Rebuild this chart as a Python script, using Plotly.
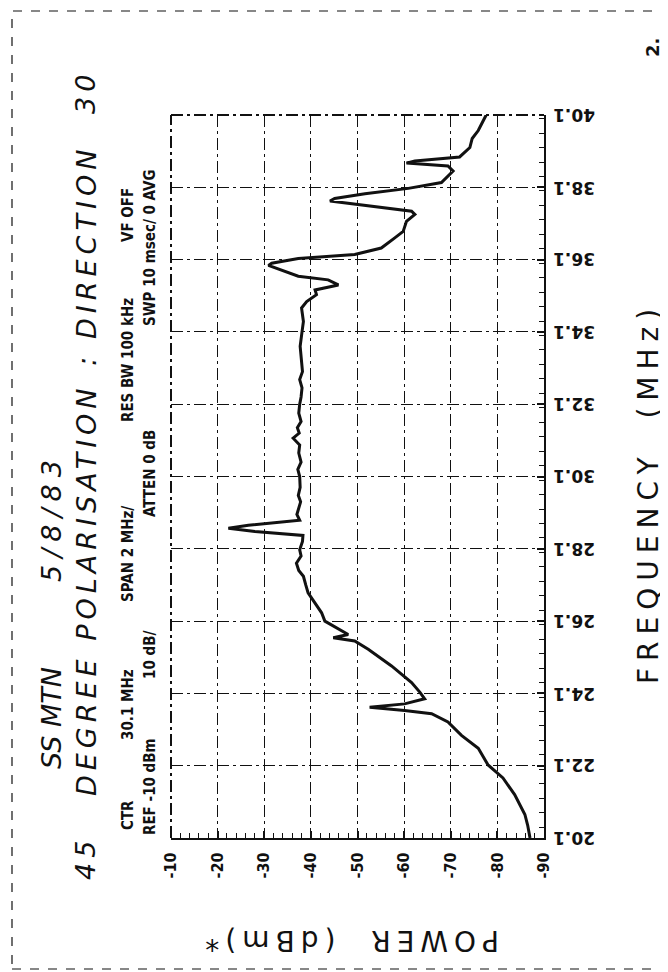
import plotly.graph_objects as go

# ---- data ----
freq_mhz = [20.1, 20.45, 20.75, 21.3, 21.76, 22.12, 22.58, 22.94, 23.31, 23.54, 23.63, 23.72,
            23.81, 23.95, 24.13, 24.4, 24.86, 25.32, 25.55, 25.64, 25.73, 25.87, 26.1, 26.33,
            26.6, 26.88, 27.1, 27.34, 27.5, 27.7, 27.9, 28.07, 28.3, 28.47, 28.58, 28.67, 28.75,
            28.89, 29.05, 29.21, 29.4, 29.58, 29.8, 30.1, 30.3, 30.5, 30.75, 30.97, 31.16, 31.3,
            31.45, 31.62, 31.85, 32.1, 32.3, 32.55, 32.78, 33.0, 33.38, 33.7, 34.1, 34.39,
            34.76, 34.94, 35.13, 35.26, 35.4, 35.54, 35.64, 35.82, 35.94, 36.0, 36.13, 36.24,
            36.42, 36.7, 36.88, 37.16, 37.35, 37.44, 37.61, 37.72, 37.79, 37.92, 38.07, 38.23,
            38.55, 38.69, 38.77, 38.83, 38.94, 39.2, 39.45, 39.67, 39.9, 40.1]
power_dbm = [-87.0, -86.5, -85.9, -83.7, -81.2, -78.0, -75.9, -72.3, -69.4, -65.9, -60.1, -52.6,
             -60.1, -64.4, -63.4, -61.6, -57.3, -52.3, -49.4, -44.8, -48.0, -46.2, -43.0, -42.3,
             -40.9, -39.4, -38.9, -38.4, -37.4, -36.9, -37.9, -37.6, -38.2, -38.3, -28.0, -22.3,
             -26.6, -37.6, -37.0, -37.3, -37.8, -37.3, -37.7, -37.6, -37.2, -37.9, -37.4, -37.6,
             -36.2, -37.5, -37.1, -37.9, -37.4, -37.6, -37.9, -38.1, -37.6, -38.2, -38.0, -37.7,
             -38.1, -38.4, -38.0, -39.1, -41.2, -40.9, -45.9, -43.7, -37.3, -33.7, -30.9, -31.6,
             -37.3, -49.4, -55.1, -58.0, -59.8, -60.5, -62.3, -61.6, -51.6, -44.1, -45.1, -51.6,
             -60.9, -68.0, -70.5, -69.4, -60.5, -62.3, -71.9, -74.1, -74.6, -75.9, -76.8, -77.6]

power_ticks = [-10, -20, -30, -40, -50, -60, -70, -80, -90]
power_labels = ["-10", "-20", "-30", "-40", "-50", "-60", "-70", "-80", "-90"]
freq_ticks = [20.1, 22.1, 24.1, 26.1, 28.1, 30.1, 32.1, 34.1, 36.1, 38.1, 40.1]
freq_labels = ["20.1", "22.1", "24.1", "26.1", "28.1", "30.1", "32.1", "34.1", "36.1", "38.1", "40.1"]

# ---- layout geometry (pixels) ----
W, H = 668, 972
L, R, T, B = 163, 536, 107, 830


def px(x):
    return (x - L) / (R - L)


def py(y):
    return (B - y) / (B - T)


INK = "#111111"
COND = "DejaVu Sans Condensed, Liberation Sans Narrow, sans-serif"
PLOT_FONT = "DejaVu Sans, Liberation Sans, sans-serif"
GRID_DASH = "12px,4px,3px,4px"

fig = go.Figure()
fig.add_trace(go.Scatter(x=power_dbm, y=freq_mhz, mode="lines",
                         line=dict(color=INK, width=3), showlegend=False, hoverinfo="skip"))

fig.update_xaxes(range=[-10, -90], tickvals=power_ticks, ticktext=power_labels,
                 tickangle=-90, showgrid=True, gridcolor=INK, gridwidth=1.3, griddash=GRID_DASH,
                 zeroline=False, showline=True, linecolor=INK, linewidth=2.2,
                 ticks="inside", ticklen=7, tickwidth=1.6, tickcolor=INK,
                 minor=dict(dtick=2, ticks="inside", ticklen=5, tickwidth=1.3, tickcolor=INK, showgrid=False),
                 ticklabelstandoff=6,
                 tickfont=dict(family=COND, size=16, color=INK, weight="bold"))
fig.update_yaxes(range=[20.1, 40.1], tickvals=freq_ticks, showticklabels=False, side="right",
                 showgrid=True, gridcolor=INK, gridwidth=1.3, griddash=GRID_DASH,
                 zeroline=False, showline=True, linecolor=INK, linewidth=2.2,
                 ticks="inside", ticklen=7, tickwidth=1.6, tickcolor=INK,
                 minor=dict(dtick=0.4, ticks="inside", ticklen=5, tickwidth=1.3, tickcolor=INK, showgrid=False))

shapes = [
    dict(type="line", xref="paper", yref="paper", x0=0, x1=1, y0=1, y1=1,
         line=dict(color=INK, width=2, dash=GRID_DASH)),
    dict(type="line", xref="paper", yref="paper", x0=0, x1=0, y0=0, y1=1,
         line=dict(color=INK, width=2, dash=GRID_DASH)),
    dict(type="rect", xref="paper", yref="paper", x0=px(4), x1=px(664), y0=py(961), y1=py(3),
         line=dict(color=INK, width=1.2, dash="dash")),
]

annots = []


def note(text, x, y, size, family=COND, bold=False, italic=False, angle=-90, spacing=0, yref="paper"):
    if spacing:
        text = '<span style="letter-spacing:%dpx">%s</span>' % (spacing, text)
    annots.append(dict(text=text, x=px(x), y=py(y) if yref == "paper" else y,
                       xref="paper", yref=yref, showarrow=False,
                       xanchor="center", yanchor="middle", textangle=angle,
                       font=dict(family=family, size=size, color=INK,
                                 weight="bold" if bold else "normal",
                                 style="italic" if italic else "normal")))


# frequency tick labels (upside down, right of the frame)
for fv, fl in zip(freq_ticks, freq_labels):
    note(fl, 566, fv, 17, family=PLOT_FONT, bold=True, angle=180, yref="y")

# title columns
TITLE = "DejaVu Sans, sans-serif"
note("SS MTN", 43, 710, 27, family=TITLE, italic=True)
note("5/8/83", 43, 510, 27, family=TITLE, italic=True, spacing=7)
note("45", 78, 850, 27, family=TITLE, italic=True, spacing=5)
note("DEGREE POLARISATION", 78, 582, 27, family=TITLE, italic=True, spacing=5)
note(":", 78, 354, 27, family=TITLE, italic=True)
note("DIRECTION", 78, 234, 27, family=TITLE, italic=True, spacing=5)
note("30", 78, 84, 27, family=TITLE, italic=True, spacing=5)

# instrument settings lines
note("CTR", 120, 807, 15, bold=True)
note("30.1 MHz", 120, 697, 15, bold=True)
note("SPAN 2 MHz/", 120, 546, 15, bold=True)
note("RES BW 100 kHz", 120, 352, 15, bold=True)
note("VF OFF", 120, 207, 15, bold=True)
note("REF -10 dBm", 142, 779, 15, bold=True)
note("10 dB/", 142, 647, 15, bold=True)
note("ATTEN 0 dB", 142, 466, 15, bold=True)
note("SWP 10 msec/ 0 AVG", 142, 240, 15, bold=True)

# axis titles
note("FREQUENCY  (MHz)", 641, 485, 28, family=PLOT_FONT, spacing=7)
note("POWER  (dBm)*", 341, 933, 28, family=PLOT_FONT, angle=180, spacing=6)
note("2.", 644, 40, 18, family=PLOT_FONT, bold=True)

fig.update_layout(width=W, height=H, margin=dict(l=L, r=W - R, t=T, b=H - B),
                  paper_bgcolor="white", plot_bgcolor="white",
                  shapes=shapes, annotations=annots, showlegend=False)

fig.write_html("out.html")
